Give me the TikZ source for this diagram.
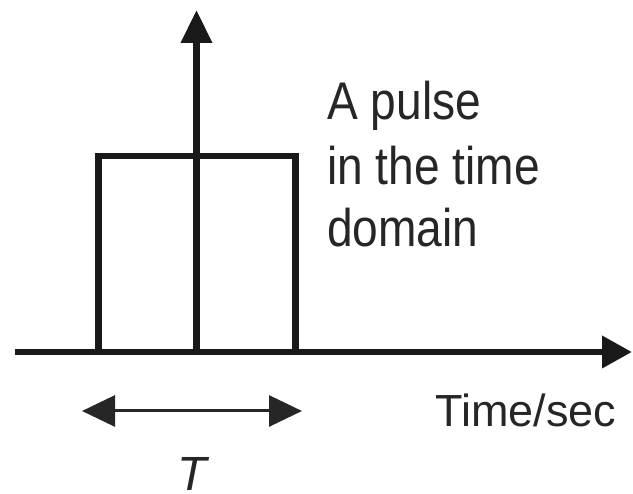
\documentclass[tikz,border=0pt]{standalone}
\usepackage{fontspec}
\usetikzlibrary{arrows.meta}
\newfontfamily\labnarrow[FakeStretch=0.87]{Liberation Sans}
\newfontfamily\labplain{Liberation Sans}
\begin{document}
\begin{tikzpicture}[x=1pt,y=-1pt,
  axis/.style={line width=6.8pt,draw=black!90},
  pulseline/.style={line width=6.5pt,draw=black!90,line join=miter},
  bigtip/.style={-{Triangle[length=30pt,width=31pt]}},
  dimline/.style={line width=3pt,draw=black!85,{Triangle[length=33pt,width=31pt]}-{Triangle[length=33pt,width=31pt]}},
  txt/.style={inner sep=0pt,anchor=base west,text=black!85},
]
\useasboundingbox (0,0) rectangle (633,494);
% coordinates
\coordinate (xs) at (15,352);
\coordinate (xe) at (632,352);
\coordinate (ys) at (196.5,352);
\coordinate (ye) at (196.5,10);
\coordinate (p1) at (98.5,352);
\coordinate (p2) at (98.5,156);
\coordinate (p3) at (295.5,156);
\coordinate (p4) at (295.5,352);
\coordinate (dl) at (82,411);
\coordinate (dr) at (302,411);
% pulse
\draw[pulseline] (p1) -- (p2) -- (p3) -- (p4);
% axes
\draw[axis,bigtip] (xs) -- (xe);
\draw[axis,-{Triangle[length=33pt,width=30pt]}] (ys) -- (ye);
% width arrow
\draw[dimline] (dl) -- (dr);
% labels
\node[txt,font=\labnarrow\fontsize{53}{64}\selectfont] (l1) at (327,120) {A pulse};
\node[txt,font=\labnarrow\fontsize{53}{64}\selectfont] (l2) at (327,185) {in the time};
\node[txt,font=\labnarrow\fontsize{53}{64}\selectfont] (l3) at (327,247) {domain};
\node[txt,font=\labplain\fontsize{45}{54}\selectfont] (tsec) at (435,427) {Time/sec};
\node[inner sep=0pt,anchor=base,text=black!85,font=\labplain\itshape\fontsize{48}{56}\selectfont] (tlab) at (192,491) {T};
\end{tikzpicture}
\end{document}
